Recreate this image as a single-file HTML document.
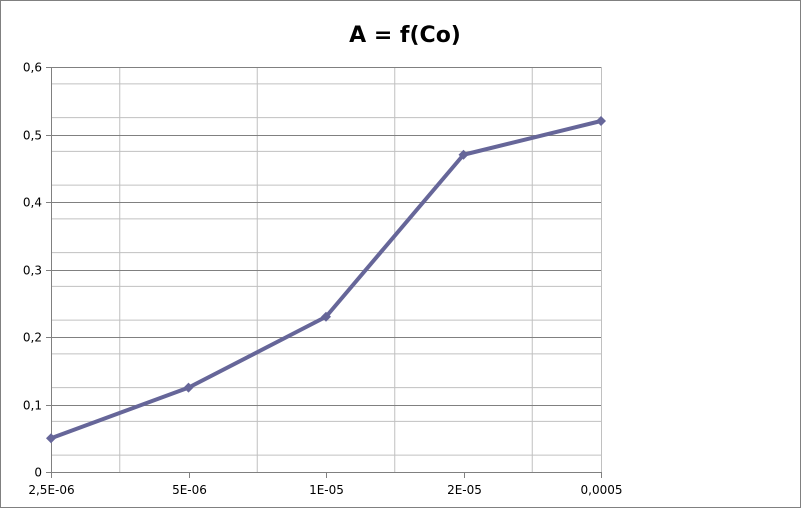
<!DOCTYPE html>
<html><head><meta charset="utf-8"><style>
body{margin:0;background:#fff}
svg{display:block;font-family:"DejaVu Sans","Liberation Sans",sans-serif}
</style></head><body>
<svg id="chart" width="801" height="508">
<rect x="0.5" y="0.5" width="800" height="507" fill="#fff" stroke="#808080"/>
<text x="405" y="42" text-anchor="middle" font-size="22" font-weight="bold">A = f(Co)</text>
<g id="grid"></g><g id="axes"></g><g id="series"></g>
</svg>
<script>
const categories=["2,5E-06","5E-06","1E-05","2E-05","0,0005"];
const values=[0.05,0.125,0.23,0.47,0.52];
const yTicks=[0,0.1,0.2,0.3,0.4,0.5,0.6];
const yTickLabels=["0","0,1","0,2","0,3","0,4","0,5","0,6"];
const NS="http://www.w3.org/2000/svg";
const X0=51,X1=601,Y0=472,Y1=67,YMAX=0.6;
const xp=i=>X0+i*(X1-X0)/(categories.length-1);
const yp=v=>Y0-(v/YMAX)*(Y0-Y1);
function mk(t,a,p){const e=document.createElementNS(NS,t);for(const k in a)e.setAttribute(k,a[k]);p.appendChild(e);return e;}
const grid=document.getElementById('grid'),axes=document.getElementById('axes'),ser=document.getElementById('series');
for(let k=0;k<(yTicks.length-1)*2;k++){const v=(k+0.5)*YMAX/((yTicks.length-1)*2);
 const l=mk('line',{x1:X0,x2:X1,y1:yp(v),y2:yp(v),stroke:'#c0c0c0'},grid);
 
 }
for(let i=0;i<categories.length-1;i++){const x=(xp(i)+xp(i+1))/2;
 const l=mk('line',{x1:x,x2:x,y1:Y1,y2:Y0,stroke:'#c0c0c0'},grid);
 
 }
const pa=mk('line',{x1:X1+0.5,x2:X1+0.5,y1:Y1,y2:Y0,stroke:'#c0c0c0'},grid);


yTicks.forEach((v,i)=>{const y=Math.round(yp(v))+0.5;
 const l=mk('line',{x1:X0-5,x2:X1,y1:y,y2:y,stroke:'#808080'},grid);
 
 
 const t=mk('text',{x:X0-9,y:y+4,'text-anchor':'end','font-size':'12'},axes);t.textContent=yTickLabels[i];
 
 });
const ya=mk('line',{x1:X0+0.5,x2:X0+0.5,y1:Y1,y2:Y0,stroke:'#808080'},axes);


categories.forEach((c,i)=>{const x=Math.round(xp(i))+0.5;
 const l=mk('line',{x1:x,x2:x,y1:Y0,y2:Y0+6,stroke:'#808080'},axes);
 
 
 const t=mk('text',{x:x,y:Y0+22,'text-anchor':'middle','font-size':'12'},axes);t.textContent=c;
 
 });
const pts=values.map((v,i)=>xp(i)+','+yp(v)).join(' ');
const line=mk('polyline',{points:pts,fill:'none',stroke:'#666699','stroke-width':4,'stroke-linejoin':'round'},ser);


values.forEach((v,i)=>{const x=xp(i),y=yp(v);
 const m=mk('polygon',{points:`${x},${y-5} ${x+5},${y} ${x},${y+5} ${x-5},${y}`,fill:'#666699'},ser);
 
 });
</script>
</body></html>
